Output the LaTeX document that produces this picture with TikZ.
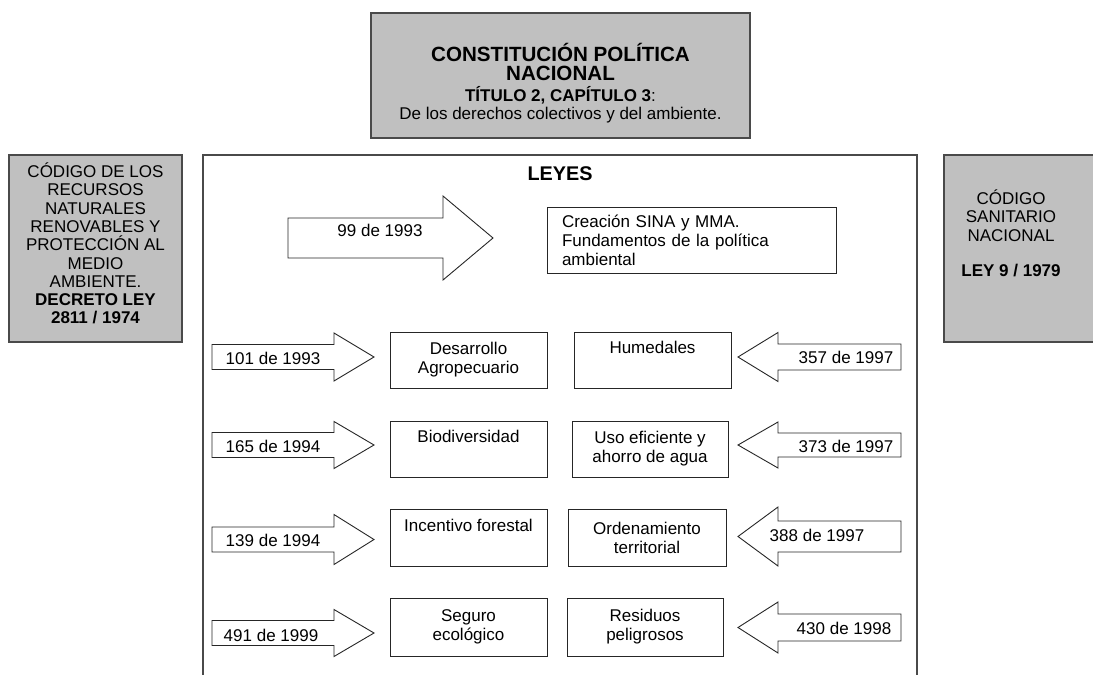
\documentclass[tikz,border=0pt]{standalone}
\usepackage{fontspec}
\setmainfont{Liberation Sans}
\definecolor{boxgray}{HTML}{C0C0C0}
\definecolor{edgegray}{HTML}{4A4A4A}
\newcommand\blockarrow[6]{\draw[arrowshape] (#1,{#4-#5}) -- (#2,{#4-#5}) -- (#2,{#4-#6}) -- (#3,#4) -- (#2,{#4+#6}) -- (#2,{#4+#5}) -- (#1,{#4+#5}) -- cycle;}
\newcommand\titlefont{\fontsize{20.6}{21}\selectfont\bfseries}
\begin{document}
\begin{tikzpicture}[x=1pt,y=-1pt,
  txt/.style={font=\fontsize{17}{18.3}\selectfont, align=center, inner sep=0pt},
  graybox/.style={draw=edgegray, line width=1.3pt, fill=boxgray, inner sep=0pt},
  lawbox/.style={draw=black!85, line width=0.9pt, fill=white, inner sep=0pt, align=center, font=\fontsize{17}{19}\selectfont},
  arrowshape/.style={draw=black!85, line width=0.9pt, fill=white, line join=miter},
  frame/.style={draw=edgegray, line width=1.3pt}
]
\useasboundingbox (0,0) rectangle (1093,675);

% top box
\node[graybox, minimum width=379pt, minimum height=125pt] (cpn) at (560.5,75.5) {};
\node[font=\titlefont, inner sep=0pt] (cpn1) at (560.5,52) {CONSTITUCIÓN POLÍTICA};
\node[font=\titlefont, inner sep=0pt] (cpn2) at (560.5,73) {NACIONAL};
\node[txt] (cpn3) at (560.5,95) {\textbf{TÍTULO 2, CAPÍTULO 3}:};
\node[txt] (cpn4) at (560.5,115) {De los derechos colectivos y del ambiente.};

% left box
\node[graybox, minimum width=173pt, minimum height=187pt] (crn) at (95.5,248.5) {};
\node[txt] (crntext) at (95.5,243.5) {CÓDIGO DE LOS\\RECURSOS\\NATURALES\\RENOVABLES Y\\PROTECCIÓN AL\\MEDIO\\AMBIENTE.\\\textbf{DECRETO LEY}\\\textbf{2811 / 1974}};

% right box
\draw[graybox] (944,155) rectangle (1100,342);
\node[txt] (csntext) at (1011,215.5) {CÓDIGO\\SANITARIO\\NACIONAL};
\node[txt] (csnley) at (1011,271) {\textbf{LEY 9 / 1979}};

% main frame
\draw[frame] (203,700) -- (203,155) -- (917,155) -- (917,700);
\node[font=\fontsize{19.8}{21}\selectfont\bfseries, inner sep=0pt] (leyes) at (560,174) {LEYES};

% 99 de 1993
\blockarrow{288}{443}{493}{238}{20}{42}
\node[txt] (a99) at (380,230) {99 de 1993};
\node[lawbox, minimum width=289pt, minimum height=66pt, text width=259pt, align=left] (sina) at (691.5,240)
  {Creación SINA y MMA.\\Fundamentos de la política\\ambiental};

% left column arrows
\blockarrow{212}{334}{374}{357}{12.5}{24}
\node[txt] (a101) at (273,358) {101 de 1993};
\blockarrow{212}{334}{374}{445}{12.5}{23.5}
\node[txt] (a165) at (273,446) {165 de 1994};
\blockarrow{212}{334}{374}{539.5}{12.5}{25}
\node[txt] (a139) at (273,540) {139 de 1994};
\blockarrow{212}{334}{374}{633}{12.5}{23.5}
\node[txt] (a491) at (271,635) {491 de 1999};

% left column boxes
\node[lawbox, minimum width=157pt, minimum height=56pt] (desa) at (468.5,360) {Desarrollo\\Agropecuario};
\node[lawbox, minimum width=157pt, minimum height=56pt] (bio) at (468.5,449) {Biodiversidad\\\strut};
\node[lawbox, minimum width=157pt, minimum height=57pt] (inc) at (468.5,537.5) {Incentivo forestal\\\strut};
\node[lawbox, minimum width=157pt, minimum height=58pt] (seg) at (468.5,627) {Seguro\\ecológico};

% right column arrows
\blockarrow{901}{778}{738}{357}{13}{24.5}
\node[txt] (a357) at (846,357) {357 de 1997};
\blockarrow{901}{778}{738}{445}{12}{23}
\node[txt] (a373) at (846,446) {373 de 1997};
\blockarrow{901}{778}{738}{536.5}{15.5}{29.5}
\node[txt] (a388) at (817,535) {388 de 1997};
\blockarrow{901}{778}{738}{627.5}{13.5}{25.5}
\node[txt] (a430) at (844,628) {430 de 1998};

% right column boxes
\node[lawbox, minimum width=157pt, minimum height=56pt] (hum) at (652.5,360) {Humedales\\\strut};
\node[lawbox, minimum width=156pt, minimum height=56pt] (uso) at (650,449) {Uso eficiente y\\ahorro de agua};
\node[lawbox, minimum width=158pt, minimum height=57pt] (ord) at (647,537.5) {Ordenamiento\\territorial};
\node[lawbox, minimum width=156pt, minimum height=58pt] (res) at (645,627) {Residuos\\peligrosos};
\end{tikzpicture}
\end{document}
